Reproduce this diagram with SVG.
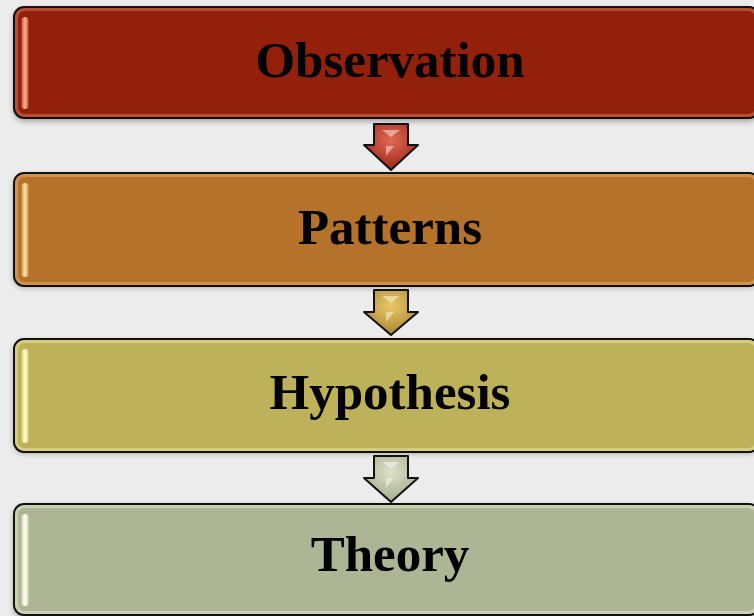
<svg xmlns="http://www.w3.org/2000/svg" width="754" height="616" viewBox="0 0 754 616">
<defs>
<style>
.box{stroke:#111;stroke-width:2}
.edge{fill:none;stroke-width:3;stroke-opacity:0.5}
.lbl{font-family:"Liberation Serif","Times New Roman",serif;font-weight:bold;font-size:51px;fill:#000;text-anchor:middle}
.arr{stroke:#111;stroke-width:2;stroke-linejoin:round}
.gl{fill:#fff;opacity:0.45}
</style>
<filter id="sh" x="-5%" y="-20%" width="110%" height="150%">
<feGaussianBlur stdDeviation="3"/>
</filter>
<linearGradient id="hl1" x1="0" y1="0" x2="1" y2="0"><stop offset="0" stop-color="#c9553d"/><stop offset="0.5" stop-color="#ffb09a"/><stop offset="1" stop-color="#c9553d"/></linearGradient>
<linearGradient id="hl2" x1="0" y1="0" x2="1" y2="0"><stop offset="0" stop-color="#d89a50"/><stop offset="0.5" stop-color="#ffe0a8"/><stop offset="1" stop-color="#d89a50"/></linearGradient>
<linearGradient id="hl3" x1="0" y1="0" x2="1" y2="0"><stop offset="0" stop-color="#e0d480"/><stop offset="0.5" stop-color="#fffcc8"/><stop offset="1" stop-color="#e0d480"/></linearGradient>
<linearGradient id="hl4" x1="0" y1="0" x2="1" y2="0"><stop offset="0" stop-color="#d8dcb8"/><stop offset="0.5" stop-color="#ffffea"/><stop offset="1" stop-color="#d8dcb8"/></linearGradient>
<radialGradient id="a1" cx="0.5" cy="0.35" r="0.6"><stop offset="0" stop-color="#e06a55"/><stop offset="1" stop-color="#a52a1c"/></radialGradient>
<radialGradient id="a2" cx="0.5" cy="0.35" r="0.6"><stop offset="0" stop-color="#e8c868"/><stop offset="1" stop-color="#b08a34"/></radialGradient>
<radialGradient id="a3" cx="0.5" cy="0.35" r="0.6"><stop offset="0" stop-color="#dde0c8"/><stop offset="1" stop-color="#a9b092"/></radialGradient>
</defs>
<rect width="754" height="616" fill="#ececec"/>

<g id="observation">
<rect x="14" y="10" width="745" height="111" rx="10" fill="#000" opacity="0.35" filter="url(#sh)"/>
<rect class="box" x="14" y="7" width="745" height="111" rx="10" fill="#93200a"/>
<rect class="edge" x="16.5" y="9.5" width="740" height="106" rx="8" stroke="#e07a60"/>
<rect x="21.5" y="17" width="7" height="92" rx="3.5" fill="url(#hl1)"/>
<text class="lbl" x="390" y="77">Observation</text>
</g>

<g id="patterns">
<rect x="14" y="176" width="745" height="111" rx="10" fill="#000" opacity="0.35" filter="url(#sh)"/>
<rect class="box" x="14" y="173" width="745" height="113" rx="10" fill="#b5722a"/>
<rect class="edge" x="16.5" y="175.5" width="740" height="108" rx="8" stroke="#f0b070"/>
<rect x="21.5" y="183" width="7" height="94" rx="3.5" fill="url(#hl2)"/>
<text class="lbl" x="390" y="244">Patterns</text>
</g>

<g id="hypothesis">
<rect x="14" y="342" width="745" height="111" rx="10" fill="#000" opacity="0.35" filter="url(#sh)"/>
<rect class="box" x="14" y="339" width="745" height="113" rx="10" fill="#bdb15a"/>
<rect class="edge" x="16.5" y="341.5" width="740" height="108" rx="8" stroke="#f0e8a0"/>
<rect x="21.5" y="349" width="7" height="94" rx="3.5" fill="url(#hl3)"/>
<text class="lbl" x="390" y="409">Hypothesis</text>
</g>

<g id="theory">
<rect x="14" y="507" width="745" height="111" rx="10" fill="#000" opacity="0.35" filter="url(#sh)"/>
<rect class="box" x="14" y="504" width="745" height="111" rx="10" fill="#aeb594"/>
<rect class="edge" x="16.5" y="506.5" width="740" height="106" rx="8" stroke="#e8ecd0"/>
<rect x="21.5" y="514" width="7" height="92" rx="3.5" fill="url(#hl4)"/>
<text class="lbl" x="390" y="571">Theory</text>
</g>

<g id="connectors">
<polygon class="arr" fill="url(#a1)" points="374,124 408,124 408,145 418,145 391,170 364,145 374,145"/>
<polygon class="gl" points="382,130 400,130 391,137"/>
<polygon class="gl" points="386,156 386,146 394,146"/>
<polygon class="arr" fill="url(#a2)" points="374,290 408,290 408,312 418,312 391,335 364,312 374,312"/>
<polygon class="gl" points="382,296 400,296 391,303"/>
<polygon class="gl" points="386,322 386,312 394,312"/>
<polygon class="arr" fill="url(#a3)" points="374,456 408,456 408,478 418,478 391,502 364,478 374,478"/>
<polygon class="gl" points="382,462 400,462 391,469"/>
<polygon class="gl" points="386,488 386,478 394,478"/>
</g>
</svg>
